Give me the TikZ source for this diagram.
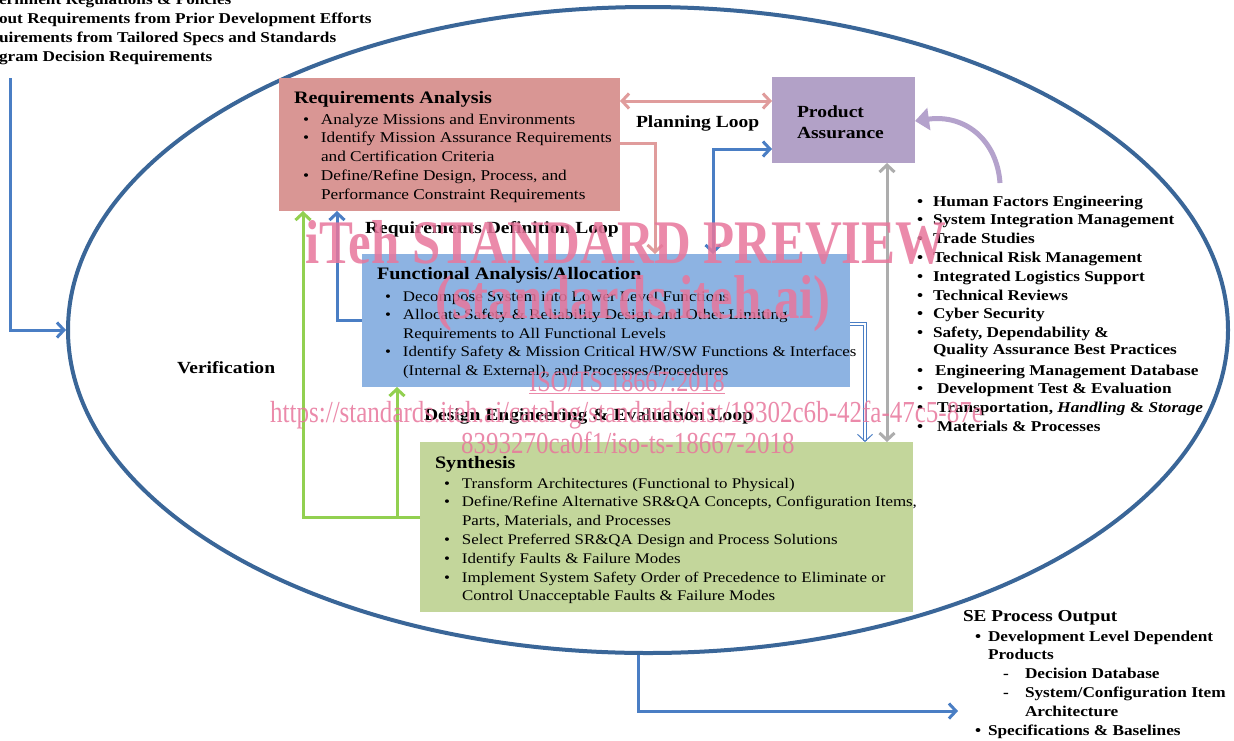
\documentclass[tikz,border=0pt]{standalone}
\usepackage{fontspec}
\setmainfont{Liberation Serif}[FakeStretch=1.15]
\newfontfamily\wmfont{Liberation Serif}[FakeStretch=0.82]
\usetikzlibrary{arrows.meta,shapes.geometric}
\definecolor{rafill}{HTML}{D99694}
\definecolor{pafill}{HTML}{B2A1C7}
\definecolor{fafill}{HTML}{8DB3E2}
\definecolor{syfill}{HTML}{C3D69B}
\definecolor{ellcol}{HTML}{3A6698}
\definecolor{bluecol}{HTML}{4A7EC4}
\definecolor{pinkcol}{HTML}{E09C9C}
\definecolor{greencol}{HTML}{92D050}
\definecolor{graycol}{HTML}{ADADAD}
\definecolor{purplecol}{HTML}{B4A2CC}
\definecolor{wmcol}{HTML}{E8769C}
\newcommand\bodyfont{\fontsize{15}{18.8}\selectfont}
\newcommand\fabodyfont{\fontsize{14.7}{18.6}\selectfont}
\newcommand\sybodyfont{\fontsize{14.7}{18.8}\selectfont}
\newcommand\headfont{\fontsize{17.5}{18.8}\selectfont\bfseries}
\newcommand\labfont{\fontsize{17}{21}\selectfont\bfseries}
\newcommand\listfont{\fontsize{15}{18.8}\selectfont\bfseries}
\newcommand\sehead{\fontsize{16.7}{18.8}\selectfont\bfseries}
\begin{document}
\begin{tikzpicture}[x=1pt,y=-1pt,
  >={Straight Barb[length=7pt,width=15pt]},
  box/.style={draw=none, anchor=north west, inner sep=0, outer sep=0},
  txt/.style={anchor=base west, inner sep=0, outer sep=0},
  conn/.style={line width=3pt},
  bluec/.style={conn, draw=bluecol},
  pinkc/.style={conn, draw=pinkcol},
  greenc/.style={conn, draw=greencol},
  grayc/.style={conn, draw=graycol},
  dblc/.style={line width=1pt, draw=bluecol, double=white, double distance=1.2pt},
  purplec/.style={line width=5pt, draw=purplecol},
  wm/.style={anchor=base west, inner sep=0, text=wmcol, text opacity=0.85}]
\useasboundingbox (0,0) rectangle (1234,740);
\fill[white] (0,0) rectangle (1234,740);

% process input text (cut at the left edge)
\node[txt, font=\listfont] (in1) at (-1,4) {ernment Regulations \& Policies};
\node[txt, font=\listfont] (in2) at (-1,23) {out Requirements from Prior Development Efforts};
\node[txt, font=\listfont] (in3) at (-1,42) {uirements from Tailored Specs and Standards};
\node[txt, font=\listfont] (in4) at (-1,61) {gram Decision Requirements};

% big ellipse
\node[draw=ellcol, line width=4pt, ellipse, minimum width=1160pt, minimum height=646pt, inner sep=0] (ell) at (648,330) {};

% boxes
\node[box, fill=rafill, minimum width=341pt, minimum height=133pt] (ra) at (279,78) {};
\node[box, fill=pafill, minimum width=143pt, minimum height=86pt] (pa) at (772,77) {};
\node[box, fill=fafill, minimum width=488pt, minimum height=133pt] (fa) at (362,254) {};
\node[box, fill=syfill, minimum width=493pt, minimum height=170pt] (sy) at (420,442) {};

% box texts
\node[txt, font=\bodyfont] (ratext) at (294,103) {%
\begin{tabular}[t]{@{\hspace{9pt}}p{18pt}@{}l@{}}
\multicolumn{2}{@{}l@{}}{\headfont Requirements Analysis}\\[2.2pt]
\textbullet & Analyze Missions and Environments\\
\textbullet & Identify Mission Assurance Requirements\\
 & and Certification Criteria\\
\textbullet & Define/Refine Design, Process, and\\
 & Performance Constraint Requirements
\end{tabular}};

\node[txt, font=\labfont] (patext) at (797,117) {%
\begin{tabular}[t]{@{}l@{}}Product\\Assurance\end{tabular}};

\node[txt, font=\fabodyfont] (fatext) at (377,279) {%
\begin{tabular}[t]{@{\hspace{8pt}}p{18pt}@{}l@{}}
\multicolumn{2}{@{}l@{}}{\headfont Functional Analysis/Allocation}\\[3.4pt]
\textbullet & Decompose System into Lower Level Functions\\
\textbullet & Allocate Safety \& Reliability Design and Other Limiting\\
 & Requirements to All Functional Levels\\
\textbullet & Identify Safety \& Mission Critical HW/SW Functions \& Interfaces\\
 & (Internal \& External), and Processes/Procedures
\end{tabular}};

\node[txt, font=\sybodyfont] (sytext) at (435,468) {%
\begin{tabular}[t]{@{\hspace{9pt}}p{18pt}@{}l@{}}
\multicolumn{2}{@{}l@{}}{\headfont Synthesis}\\[1.2pt]
\textbullet & Transform Architectures (Functional to Physical)\\
\textbullet & Define/Refine Alternative SR\&QA Concepts, Configuration Items,\\
 & Parts, Materials, and Processes\\
\textbullet & Select Preferred SR\&QA Design and Process Solutions\\
\textbullet & Identify Faults \& Failure Modes\\
\textbullet & Implement System Safety Order of Precedence to Eliminate or\\
 & Control Unacceptable Faults \& Failure Modes
\end{tabular}};

% loop labels
\node[txt, font=\labfont] (plan) at (636,127) {Planning Loop};
\node[txt, font=\labfont] (rdl) at (365,233) {Requirements Definition Loop};
\node[txt, font=\labfont] (dee) at (424,420) {Design Engineering \& Evaluation Loop};
\node[txt, font=\labfont] (ver) at (177,373) {Verification};

% right list
\node[txt, font=\listfont] (rlist) at (917,206) {%
\begin{tabular}[t]{@{}p{16pt}@{}l@{}}
\textbullet & Human Factors Engineering\\
\textbullet & System Integration Management\\
\textbullet & Trade Studies\\
\textbullet & Technical Risk Management\\
\textbullet & Integrated Logistics Support\\
\textbullet & Technical Reviews\\
\textbullet & Cyber Security\\
\textbullet & Safety, Dependability \&\\[-2.4pt]
 & Quality Assurance Best Practices\\[2.2pt]
\textbullet & \hspace{2pt}Engineering Management Database\\
\textbullet & \hspace{4pt}Development Test \& Evaluation\\
\textbullet & \hspace{4pt}Transportation, \textit{Handling} \& \textit{Storage}\\
\textbullet & \hspace{4pt}Materials \& Processes
\end{tabular}};

% SE process output
\node[txt, font=\listfont] (seout) at (963,621) {%
\begin{tabular}[t]{@{\hspace{12pt}}p{13pt}@{}l@{}}
\multicolumn{2}{@{}l@{}}{\sehead SE Process Output}\\[1.2pt]
\textbullet & Development Level Dependent\\
 & Products\\
 & \hspace{15pt}\makebox[22pt][l]{-}Decision Database\\
 & \hspace{15pt}\makebox[22pt][l]{-}System/Configuration Item\\
 & \hspace{37pt}Architecture\\
\textbullet & Specifications \& Baselines
\end{tabular}};

% connectors
\coordinate (inTop) at (10,78);
\draw[bluec,->] (inTop) |- (ell.west);
\coordinate (outEnd) at (958,711);
\draw[bluec,->] ([xshift=-10pt]ell.south) |- (outEnd);

\draw[pinkc,<->] (ra.east |- 0,101) -- (pa.west |- 0,101);
\draw[pinkc,->] (ra.east |- 0,143) -| (fa.north -| 655,0);
\draw[bluec,<->] (fa.north -| 713,0) |- (pa.west |- 0,149);
\draw[grayc,<->] (pa.south -| 887,0) -- (sy.north -| 887,0);
\draw[dblc,->] (fa.east |- 0,324) -| (sy.north -| 865,0);
\draw[bluec,->] (fa.west |- 0,320) -| (ra.south -| 337,0);
\draw[greenc,->] (sy.west |- 0,517) -| (ra.south -| 303,0);
\coordinate (gb) at (397,517);
\draw[greenc,->] (gb) -- (fa.south -| gb);
\coordinate (pc) at (1000,183);
\draw[purplec,-{Triangle[length=14pt,width=22pt]}] (pc) .. controls (997,140) and (965,114) .. (pa.east |- 0,121);

% watermark
\node[wm, font=\wmfont\fontsize{62}{62}\selectfont\bfseries] (wm1) at (305,263) {iTeh STANDARD PREVIEW};
\node[wm, font=\wmfont\fontsize{62}{62}\selectfont\bfseries] (wm2) at (435,318) {(standards.iteh.ai)};
\node[wm, font=\wmfont\fontsize{29.5}{30}\selectfont] (wm3) at (529,391) {\underline{ISO/TS 18667:2018}};
\node[wm, font=\wmfont\fontsize{30.5}{31}\selectfont] (wm4) at (270,422) {https://standards.iteh.ai/catalog/standards/sist/18302c6b-42fa-47c5-87e};
\node[wm, font=\wmfont\fontsize{30.5}{31}\selectfont] (wm5) at (461,453) {8393270ca0f1/iso-ts-18667-2018};
\end{tikzpicture}
\end{document}
